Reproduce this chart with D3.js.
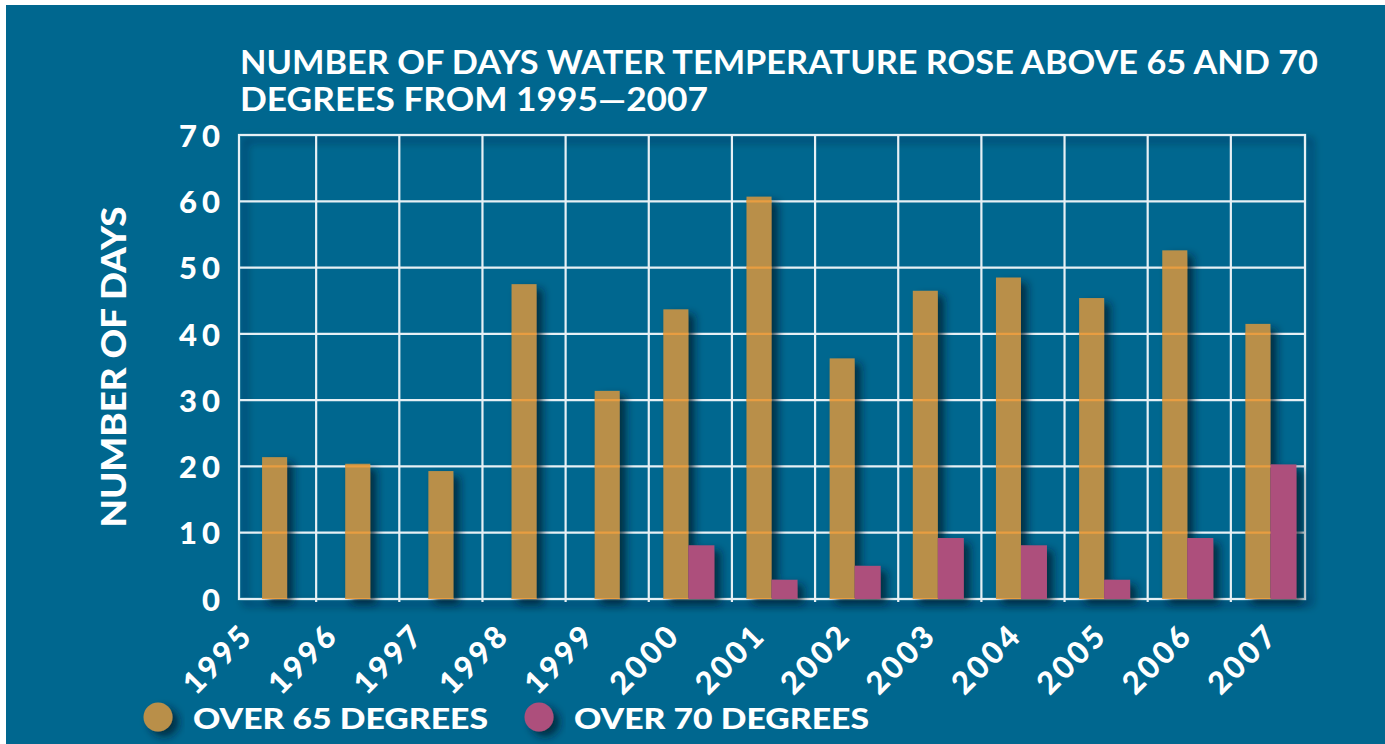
<!DOCTYPE html>
<meta charset="utf-8">
<style>
body { margin: 0; background: #fff; }
text { font-family: Lato, "DejaVu Sans", sans-serif; fill: #fff; }
.title { font-size: 33px; font-weight: 700; }
.tick-lab { font-size: 31px; font-weight: 900; letter-spacing: 5px; }
.x-lab { font-size: 31px; font-weight: 900; letter-spacing: 3px; }
.ytitle { font-size: 34px; font-weight: 900; }
.legend { font-size: 28px; font-weight: 900; }
.grid line { stroke: #e6f0f5; stroke-width: 2.2; }
</style>
<body>
<script src="https://cdn.jsdelivr.net/npm/d3@7"></script>
<script>

// data
var years = ["1995","1996","1997","1998","1999","2000","2001","2002","2003","2004","2005","2006","2007"];
var over65 = [21.4, 20.4, 19.3, 47.5, 31.4, 43.7, 60.7, 36.3, 46.5, 48.5, 45.4, 52.6, 41.5];
var over70 = [null, null, null, null, null, 8.1, 2.9, 5.0, 9.2, 8.1, 2.9, 9.2, 20.3];
var yTicks = [0, 10, 20, 30, 40, 50, 60, 70];
var seriesNames = ["OVER 65 DEGREES", "OVER 70 DEGREES"];
var colors = ["#b98f49", "#ad4f7b"];

var W = 1385, H = 744;
var plotLeft = 239, plotRight = 1305, plotTop = 135, plotBottom = 599;

var svg = d3.select("body").append("svg")
    .attr("width", W)
    .attr("height", H);

// drop shadow for bars and frame
var defs = svg.append("defs");
var f = defs.append("filter").attr("id", "shadow")
    .attr("x", "-20%").attr("y", "-20%").attr("width", "160%").attr("height", "160%");
f.append("feDropShadow")
    .attr("dx", 6).attr("dy", 5).attr("stdDeviation", 4)
    .attr("flood-color", "#001a2a").attr("flood-opacity", 0.75);

// background panel
svg.append("rect")
    .attr("x", 6).attr("y", 5)
    .attr("width", W - 6).attr("height", H - 5)
    .attr("fill", "#00678f");

var y = d3.scaleLinear().domain([0, 70]).range([plotBottom, plotTop]);
var x = d3.scaleBand().domain(years).range([plotLeft - 6, plotRight + 9]);
var xLab = d3.scalePoint().domain(years).range([255, 1280]);

var table = years.map(function(d, i) {
    return {year: d, a: over65[i], b: over70[i]};
});

// frame + grid
var grid = svg.append("g").attr("class", "grid");
grid.append("rect")
    .attr("x", plotLeft).attr("y", plotTop)
    .attr("width", plotRight - plotLeft).attr("height", plotBottom - plotTop)
    .attr("fill", "none")
    .attr("stroke", "#e6f0f5").attr("stroke-width", 2.2)
    .attr("filter", "url(#shadow)");
grid.selectAll(".h").data(yTicks.slice(1, -1)).enter().append("line")
    .attr("x1", plotLeft).attr("x2", plotRight)
    .attr("y1", function(d) { return y(d); })
    .attr("y2", function(d) { return y(d); });
grid.selectAll(".v").data(years.slice(1)).enter().append("line")
    .attr("x1", function(d) { return x(d); })
    .attr("x2", function(d) { return x(d); })
    .attr("y1", plotTop).attr("y2", plotBottom + 3);

// bars
var bw = 25;
function center(d) { return x(d.year) + x.bandwidth() / 2 - 2; }
function aX(d) { return d.b == null ? center(d) - bw / 2 + 2 : center(d) - bw; }

var bars = svg.append("g").attr("filter", "url(#shadow)");
bars.selectAll(".a").data(table).enter().append("rect")
    .attr("class", "a")
    .attr("x", aX)
    .attr("y", function(d) { return y(d.a); })
    .attr("width", bw)
    .attr("height", function(d) { return y(0) - y(d.a); })
    .attr("fill", colors[0]);
bars.selectAll(".b").data(table.filter(function(d) { return d.b != null; })).enter().append("rect")
    .attr("class", "b")
    .attr("x", function(d) { return center(d); })
    .attr("y", function(d) { return y(d.b); })
    .attr("width", bw + 1)
    .attr("height", function(d) { return y(0) - y(d.b); })
    .attr("fill", colors[1]);

// grid lines glowing through the orange bars
var clip = defs.append("clipPath").attr("id", "orangeClip");
clip.selectAll("rect").data(table).enter().append("rect")
    .attr("x", aX)
    .attr("y", function(d) { return y(d.a); })
    .attr("width", bw)
    .attr("height", function(d) { return y(0) - y(d.a); });
svg.append("g").attr("clip-path", "url(#orangeClip)")
  .selectAll("line").data(yTicks).enter().append("line")
    .attr("x1", plotLeft).attr("x2", plotRight)
    .attr("y1", function(d) { return y(d); })
    .attr("y2", function(d) { return y(d); })
    .attr("stroke", "#f0a040").attr("stroke-width", 2.2).attr("opacity", 0.85);

// y axis labels
var yAxis = svg.append("g")
    .attr("transform", "translate(" + plotLeft + ",0)")
    .call(d3.axisLeft(y).tickValues(yTicks).tickSize(0).tickPadding(14));
yAxis.select(".domain").remove();
yAxis.attr("font-family", null).attr("font-size", null);
yAxis.selectAll("text")
    .attr("class", "tick-lab")
    .attr("fill", "#fff")
    .attr("dy", "0.36em");

// x labels, rotated
svg.append("g").selectAll("text").data(years).enter().append("text")
    .attr("class", "x-lab")
    .attr("text-anchor", "end")
    .attr("transform", function(d) {
        return "translate(" + xLab(d) + ",637) rotate(-45)";
    })
    .text(function(d) { return d; });

// y title
svg.append("text")
    .attr("class", "ytitle")
    .attr("text-anchor", "middle")
    .attr("transform", "translate(126," + ((plotTop + plotBottom) / 2) + ") rotate(-90)")
    .attr("textLength", 321).attr("lengthAdjust", "spacingAndGlyphs")
    .text("NUMBER OF DAYS");

// title
svg.append("text").attr("class", "title")
    .attr("x", 240).attr("y", 74)
    .attr("textLength", 1078).attr("lengthAdjust", "spacingAndGlyphs")
    .text("NUMBER OF DAYS WATER TEMPERATURE ROSE ABOVE 65 AND 70");
svg.append("text").attr("class", "title")
    .attr("x", 240).attr("y", 111)
    .attr("textLength", 468).attr("lengthAdjust", "spacingAndGlyphs")
    .text("DEGREES FROM 1995\u20142007");

// legend
var legX = [158, 539];
var leg = svg.append("g").selectAll("g").data(seriesNames).enter().append("g")
    .attr("transform", function(d, i) { return "translate(" + legX[i] + ",717)"; });
leg.append("circle")
    .attr("r", 14.5)
    .attr("fill", function(d, i) { return colors[i]; })
    .attr("filter", "url(#shadow)");
leg.append("text")
    .attr("class", "legend")
    .attr("x", 35).attr("y", 12)
    .attr("textLength", 295).attr("lengthAdjust", "spacingAndGlyphs")
    .text(function(d) { return d; });

</script>
</body>
